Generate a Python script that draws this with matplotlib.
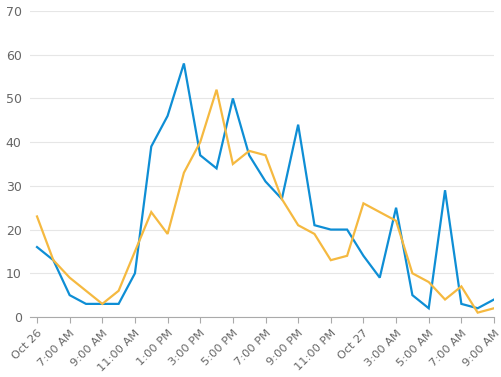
import matplotlib.pyplot as plt

# hourly samples, labels every 2 hours
tick_labels = ['Oct 26', '7:00 AM', '9:00 AM', '11:00 AM', '1:00 PM', '3:00 PM',
               '5:00 PM', '7:00 PM', '9:00 PM', '11:00 PM', 'Oct 27', '3:00 AM',
               '5:00 AM', '7:00 AM', '9:00 AM']
blue = [16, 13, 5, 3, 3, 3, 10, 39, 46, 58, 37, 34, 50, 37, 31, 27, 44, 21,
        20, 20, 14, 9, 25, 5, 2, 29, 3, 2, 4]
orange = [23, 13, 9, 6, 3, 6, 15, 24, 19, 33, 40, 52, 35, 38, 37, 27, 21, 19,
          13, 14, 26, 24, 22, 10, 8, 4, 7, 1, 2]

x = list(range(len(blue)))
gray = '#666666'

fig = plt.figure(figsize=(5.01, 3.77), dpi=100)
ax = fig.add_axes([30 / 501, 60 / 377, 464 / 501, 306 / 377])

ax.plot(x, blue, color='#0e8ed5', lw=1.6, solid_joinstyle='miter')
ax.plot(x, orange, color='#f5b940', lw=1.6, solid_joinstyle='miter')

ax.set_xlim(-0.43, len(x) - 1)
ax.set_ylim(0, 70)
ax.set_yticks(range(0, 71, 10))
ax.grid(axis='y', color='#e6e6e6', lw=0.8)
ax.set_axisbelow(True)

ax.set_xticks(x[::2])
ax.set_xticklabels(tick_labels, rotation=45, ha='right', rotation_mode='anchor')
ax.tick_params(axis='x', colors='#aaaaaa', length=4, width=0.8, labelcolor=gray,
               labelsize=8.2, pad=4)
ax.tick_params(axis='y', length=0, labelcolor=gray, labelsize=9, pad=6)

for s in ['top', 'right', 'left']:
    ax.spines[s].set_visible(False)
ax.spines['bottom'].set_color('#aaaaaa')
ax.spines['bottom'].set_linewidth(0.8)

fig.savefig('out.png', dpi=100)
